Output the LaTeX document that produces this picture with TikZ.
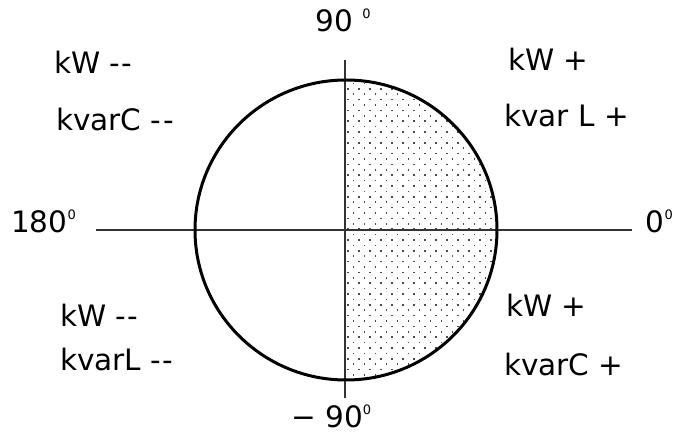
\documentclass[tikz,border=0pt]{standalone}
\usepackage{fontspec}
\setmainfont{DejaVu Sans}[Ligatures=NoCommon]
\begin{document}
\begin{tikzpicture}[x=1pt,y=-1pt,
  lbl/.style={inner sep=0pt,anchor=west,text height=0.73em,text depth=0pt,font=\fontsize{29.5}{31}\selectfont},
  axis/.style={line width=1.3pt,black!80},
  rim/.style={line width=3pt},
  dotmark/.style={fill=black!70}]
\useasboundingbox (0,0) rectangle (675,435);
\newcommand{\dg}{\raisebox{0.45em}{\fontsize{13}{13}\selectfont 0}}
\newcommand{\dd}{-\kern0.05em-}
% centre and ends
\coordinate (c) at (346,230);
\coordinate (vt) at (345,60);
\coordinate (vb) at (345,398);
\coordinate (hl) at (96,230);
\coordinate (hr) at (632,230);
% shading of the right half
\begin{scope}
  \clip (345,79) rectangle (500,381);
  \clip (c) circle [x radius=151, y radius=150];
  \foreach \j in {0,...,56}{
    \pgfmathsetmacro{\yy}{78+5.4*\j}
    \pgfmathsetmacro{\off}{mod(\j,2)*5.5}
    \foreach \i in {0,...,14}{
      \fill[dotmark] ({348+\off+11*\i-0.8},{\yy-0.8}) rectangle ++(1.6,1.6);
    }
  }
\end{scope}
\draw[axis] (hl) -- (hr);
\draw[axis] (vt) -- (vb);
\draw[rim] (c) circle [x radius=151, y radius=150];
% labels
\node[lbl,anchor=center] (n90) at (343,28) {90 \dg};
\node[lbl] (n180) at (11,229) {180\dg};
\node[lbl,anchor=east] (n0) at (673,229) {0\dg};
\node[lbl] (nm90) at (291,424) {− 90\dg};
\node[lbl] (q2a) at (54,70) {kW \dd};
\node[lbl] (q2b) at (56,127) {kvarC \dd};
\node[lbl] (q1a) at (508,67) {kW +};
\node[lbl] (q1b) at (504,123) {kvar L +};
\node[lbl] (q3a) at (60,323) {kW \dd};
\node[lbl] (q3b) at (60,367) {kvarL \dd};
\node[lbl] (q4a) at (506,313) {kW +};
\node[lbl] (q4b) at (504,372) {kvarC +};
\end{tikzpicture}
\end{document}
